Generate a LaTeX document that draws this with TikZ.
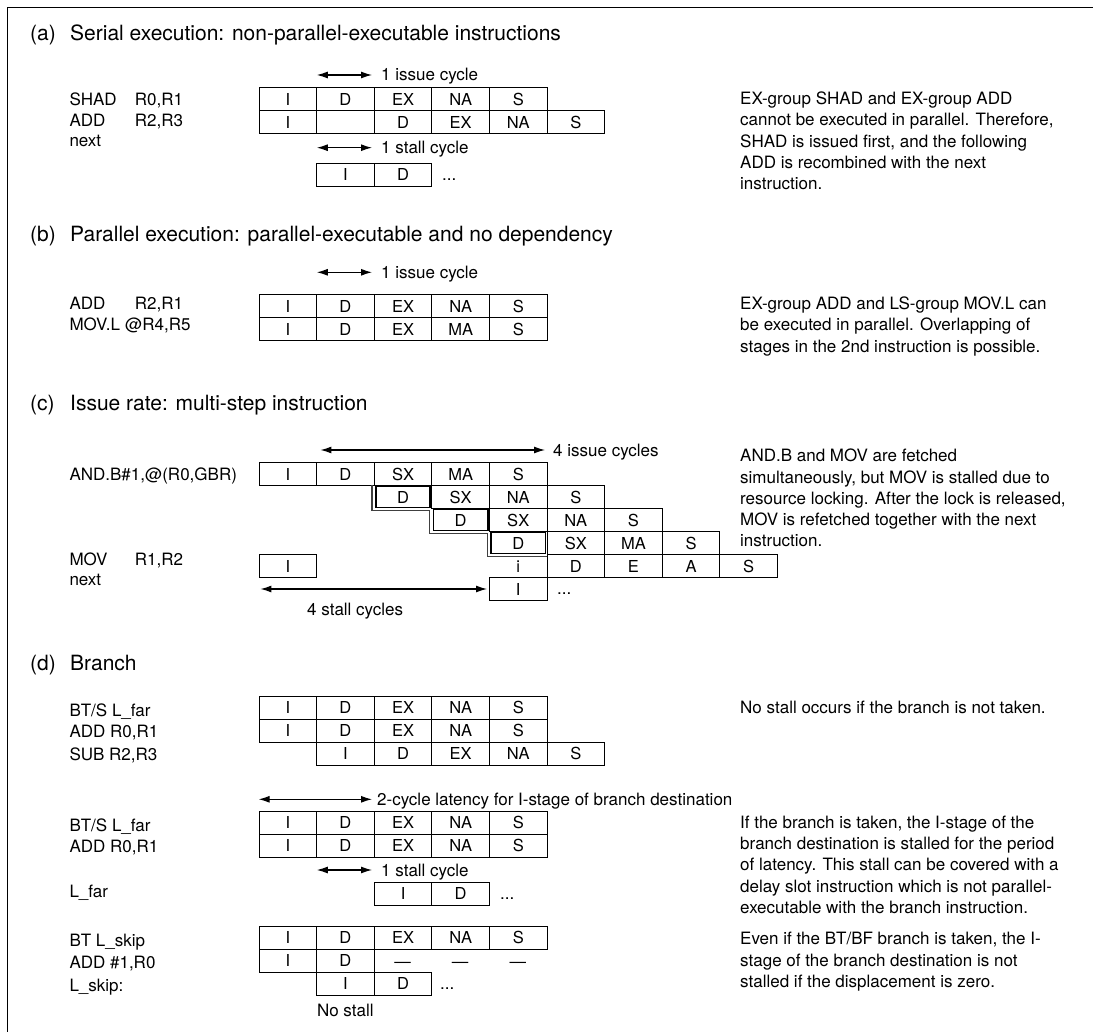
\documentclass[tikz,border=0pt]{standalone}
\usepackage{fontspec}
\setmainfont{TeX Gyre Heros}
\usetikzlibrary{arrows.meta}
\newcommand\cfont{\fontsize{16.5}{20}\selectfont}
\newcommand\lfont{\fontsize{17}{21}\selectfont}
\newcommand\tfont{\fontsize{21}{25}\selectfont}
\newcommand\pfont{\fontsize{17}{21.3}\selectfont}
\newcommand\prow[4]{\foreach \txt [count=\k from #2] in {#4} {\node[cell] (#1-\k) at ({258.6+57.6*\k},#3) {\txt};}}
\begin{document}
\begin{tikzpicture}[x=1pt,y=-1pt,
  cell/.style={draw, line width=0.9pt, minimum width=57.6pt, minimum height=23pt, inner sep=0pt, anchor=north west, text height=11.8pt, text depth=0pt, font=\cfont},
  dcell/.style={cell, draw=none},
  lbl/.style={anchor=west, inner sep=0pt, font=\lfont, text height=12pt, text depth=0pt},
  dashlbl/.style={anchor=center, inner sep=0pt, font=\cfont, text height=12pt, text depth=0pt},
  ttl/.style={anchor=west, inner sep=0pt, font=\tfont, text height=15pt, text depth=0pt},
  para/.style={anchor=north west, inner sep=0pt, align=left, font=\pfont},
  arr/.style={{Latex[length=11pt,width=7pt]}-{Latex[length=11pt,width=7pt]}, line width=1.2pt},
  thickbox/.style={line width=1.7pt},
  stair/.style={line width=1.1pt, draw=black!75}]
\useasboundingbox (0,0) rectangle (1093,1032);
\draw[line width=1.3pt] (7.3,1032) -- (7.3,7.3) -- (1093,7.3);

% ---------------- (a)
\node[ttl] (ta) at (30,33) {(a)};
\node[ttl] (tat) at (70,33) {Serial execution: non-parallel-executable instructions};
\node[lbl] (la1) at (69.3,100) {SHAD};
\node[lbl] (la1o) at (134.6,100) {R0,R1};
\node[lbl] (la2) at (69.3,120.5) {ADD};
\node[lbl] (la2o) at (134.6,120.5) {R2,R3};
\node[lbl] (la3) at (69.3,141) {next};
\coordinate (aia) at (316.8,75);
\coordinate (aib) at (372,75);
\draw[arr] (aia) -- (aib);
\node[lbl] (aitx) at (381,75) {1 issue cycle};
\prow{a1}{0}{87.3}{I,D,EX,NA,S}
\prow{a2}{0}{110.3}{I,,D,EX,NA,S}
\coordinate (asa) at (316.8,147.7);
\coordinate (asb) at (372,147.7);
\draw[arr] (asa) -- (asb);
\node[lbl] (astx) at (381,147.7) {1 stall cycle};
\prow{a3}{1}{162.7}{I,D}
\node[lbl] (adots) at (442,174.2) {...};
\node[para] (pa) at (740,91.8) {EX-group SHAD and EX-group ADD\\cannot be executed in parallel. Therefore,\\SHAD is issued first, and the following\\ADD is recombined with the next\\instruction.};

% ---------------- (b)
\node[ttl] (tb) at (30,234) {(b)};
\node[ttl] (tbt) at (70,234) {Parallel execution: parallel-executable and no dependency};
\coordinate (bia) at (316.8,272.3);
\coordinate (bib) at (372,272.3);
\draw[arr] (bia) -- (bib);
\node[lbl] (bitx) at (381,272.3) {1 issue cycle};
\node[lbl] (lb1) at (69.3,304) {ADD};
\node[lbl] (lb1o) at (134.6,304) {R2,R1};
\node[lbl] (lb2) at (69.3,325) {MOV.L};
\node[lbl] (lb2o) at (125,325) {@R4,R5};
\prow{b1}{0}{294.3}{I,D,EX,NA,S}
\prow{b2}{0}{317.3}{I,D,EX,MA,S}
\node[para] (pb) at (740,296.8) {EX-group ADD and LS-group MOV.L can\\be executed in parallel. Overlapping of\\stages in the 2nd instruction is possible.};

% ---------------- (c)
\node[ttl] (tc) at (30,403.3) {(c)};
\node[ttl] (tct) at (70,403.3) {Issue rate: multi-step instruction};
\coordinate (cia) at (320.4,450);
\coordinate (cib) at (545,450);
\draw[arr] (cia) -- (cib);
\node[lbl] (citx) at (553,450) {4 issue cycles};
\node[lbl] (lc1) at (69.3,474) {AND.B\#1,@(R0,GBR)};
\node[lbl] (lc2) at (69.3,559) {MOV};
\node[lbl] (lc2o) at (134.6,559) {R1,R2};
\node[lbl] (lc3) at (69.3,579.5) {next};
\prow{c1}{0}{462.3}{I,D,SX,MA,S}
\node[dcell] (c2-2) at (373.8,485.3) {D};
\prow{c2}{3}{485.3}{SX,NA,S}
\node[dcell] (c3-3) at (431.4,508.3) {D};
\prow{c3}{4}{508.3}{SX,NA,S}
\node[dcell] (c4-4) at (489,531.3) {D};
\prow{c4}{5}{531.3}{SX,MA,S}
\node[dcell] (c5-4) at (489,554.3) {i};
\prow{c5}{5}{554.3}{D,E,A,S}
\node[cell] (cmov) at (258.6,554.3) {I};
\node[cell] (cnext) at (489,577.3) {I};
\node[lbl] (cdots) at (557,588.8) {...};
\draw[stair] (372,485.3) -- (372,510.2) -- (429.6,510.2) -- (429.6,533.2) -- (487.2,533.2) -- (487.2,556.2) -- (546.6,556.2);
\foreach \n in {c2-2,c3-3,c4-4} {
  \draw[thickbox] ([shift={(2,1.2)}]\n.north west) rectangle ([shift={(-2,-1.6)}]\n.south east);
}
\coordinate (csa) at (260.4,589);
\coordinate (csb) at (487,589);
\draw[arr] (csa) -- (csb);
\node[lbl] (cstx) at (307,609) {4 stall cycles};
\node[para] (pc) at (740,448.8) {AND.B and MOV are fetched\\simultaneously, but MOV is stalled due to\\resource locking. After the lock is released,\\MOV is refetched together with the next\\instruction.};

% ---------------- (d)
\node[ttl] (td) at (30,663.3) {(d)};
\node[ttl] (tdt) at (70,663.3) {Branch};
\node[lbl] (ld1) at (69.3,710) {BT/S L\_far};
\node[lbl] (ld2) at (69.3,731.7) {ADD R0,R1};
\node[lbl] (ld3) at (69.3,754) {SUB R2,R3};
\prow{d1}{0}{696}{I,D,EX,NA,S}
\prow{d2}{0}{719}{I,D,EX,NA,S}
\prow{d3}{1}{742}{I,D,EX,NA,S}
\node[para] (pd1) at (740,700.5) {No stall occurs if the branch is not taken.};

\coordinate (dla) at (258.6,799.3);
\coordinate (dlb) at (372,799.3);
\draw[arr] (dla) -- (dlb);
\node[lbl] (dltx) at (377,799.3) {2-cycle latency for I-stage of branch destination};
\node[lbl] (le1) at (69.3,825) {BT/S L\_far};
\node[lbl] (le2) at (69.3,846.7) {ADD R0,R1};
\node[lbl] (le3) at (69.3,891.7) {L\_far};
\prow{e1}{0}{811}{I,D,EX,NA,S}
\prow{e2}{0}{834}{I,D,EX,NA,S}
\coordinate (esa) at (316.8,870);
\coordinate (esb) at (372,870);
\draw[arr] (esa) -- (esb);
\node[lbl] (estx) at (381,870) {1 stall cycle};
\prow{e3}{2}{881.7}{I,D}
\node[lbl] (edots) at (500,893.2) {...};
\node[para] (pd2) at (740,815.5) {If the branch is taken, the I-stage of the\\branch destination is stalled for the period\\of latency. This stall can be covered with a\\delay slot instruction which is not parallel-\\executable with the branch instruction.};

\node[lbl] (lf1) at (69.3,940) {BT L\_skip};
\node[lbl] (lf2) at (69.3,962.7) {ADD \#1,R0};
\node[lbl] (lf3) at (69.3,985) {L\_skip:};
\prow{f1}{0}{926}{I,D,EX,NA,S}
\prow{f2}{0}{949}{I,D}
\foreach \c [count=\j from 2] in {402.6,460.2,517.8} {
  \node[dashlbl] (fdash\j) at (\c,961) {\textemdash};
}
\prow{f3}{1}{972}{I,D}
\node[lbl] (fdots) at (440,983.5) {...};
\node[lbl] (fnost) at (316.8,1010.7) {No stall};
\node[para] (pd3) at (740,932.1) {Even if the BT/BF branch is taken, the I-\\stage of the branch destination is not\\stalled if the displacement is zero.};
\end{tikzpicture}
\end{document}
